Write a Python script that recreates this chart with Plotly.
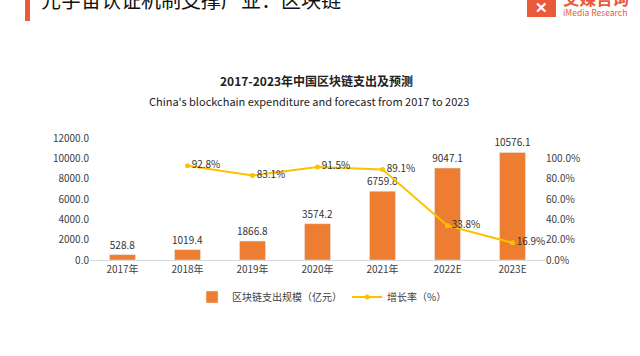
import plotly.graph_objects as go

categories = ["2017年", "2018年", "2019年", "2020年", "2021年", "2022E", "2023E"]
spend = [528.8, 1019.4, 1866.8, 3574.2, 6759.8, 9047.1, 10576.1]
growth_years = ["2018年", "2019年", "2020年", "2021年", "2022E", "2023E"]
growth = [0.928, 0.831, 0.915, 0.891, 0.338, 0.169]

FONT = "Noto Sans CJK SC"
ORANGE = "#ED7D31"
GOLD = "#FFC000"

# plot-area pixel helpers (for decorations only)
L, R, T, B = 90, 95, 138, 96
W = 640 - L - R
H = 356 - T - B
def px(x):
    return (x - L) / W
def py(y):
    return (356 - B - y) / H

fig = go.Figure()
fig.add_trace(go.Bar(
    x=categories, y=spend, name="区块链支出规模（亿元）",
    marker_color=ORANGE, width=0.4,
    text=[f"{v:.1f}" for v in spend], textposition="outside", constraintext="none",
    textfont=dict(size=10, color="#333333"), cliponaxis=False,
))
fig.add_trace(go.Scatter(
    x=growth_years, y=growth, name="增长率（%）", yaxis="y2",
    mode="lines+markers+text", line=dict(color=GOLD, width=2),
    marker=dict(size=5, color=GOLD),
    text=[f"{v*100:.1f}%" for v in growth], textposition="middle right",
    textfont=dict(size=10, color="#333333"), cliponaxis=False,
))

fig.update_layout(
    width=640, height=356,
    margin=dict(l=L, r=R, t=T, b=B, autoexpand=False),
    paper_bgcolor="white", plot_bgcolor="white",
    font=dict(family=FONT, size=10, color="#404040"),
    xaxis=dict(showgrid=False, showline=True, linecolor="#D9D9D9", linewidth=1,
               ticks="", tickfont=dict(size=10, color="#404040"), automargin=False),
    yaxis=dict(range=[0, 12000], dtick=2000, tickformat=".1f", showgrid=False,
               zeroline=False, ticks="", tickfont=dict(size=10, color="#404040"), automargin=False),
    yaxis2=dict(range=[0, 1.2], tickvals=[0, 0.2, 0.4, 0.6, 0.8, 1.0], tickformat=".1%",
                overlaying="y", side="right", showgrid=False, zeroline=False,
                ticks="", tickfont=dict(size=10, color="#404040"), automargin=False),
    legend=dict(orientation="h", x=0.51, xanchor="center", y=py(297), yanchor="middle",
                font=dict(size=10, color="#404040"), itemwidth=30, traceorder="normal"),
    showlegend=True,
)

annotations = [
    dict(text="<b>2017-2023年中国区块链支出及预测</b>", x=px(316), y=py(80),
         font=dict(size=12, color="#222222")),
    dict(text="China's blockchain expenditure and forecast from 2017 to 2023", x=px(309), y=py(101),
         font=dict(size=11, color="#222222")),
    dict(text="元宇宙认证机制支撑产业：区块链", x=px(39), y=py(0), xanchor="left",
         font=dict(size=20, color="#111111")),
    dict(text="<b>艾媒咨询</b>", x=px(561), y=py(-2), xanchor="left",
         font=dict(size=16.5, color="#E85A3A")),
    dict(text="iMedia Research", x=px(561), y=py(12.5), xanchor="left",
         font=dict(size=8.5, color="#E85A3A")),
    dict(text="<b>✕</b>", x=px(541), y=py(6), xanchor="center",
         font=dict(size=15, color="white")),
]
for a in annotations:
    a.setdefault("xref", "paper")
    a.setdefault("yref", "paper")
    a.setdefault("showarrow", False)
    a.setdefault("yanchor", "middle")
    fig.add_annotation(**a)

fig.add_shape(type="rect", xref="paper", yref="paper",
              x0=px(25), x1=px(30), y0=py(21), y1=py(-5),
              fillcolor="#E85A3A", line_width=0, layer="above")
fig.add_shape(type="rect", xref="paper", yref="paper",
              x0=px(527), x1=px(556), y0=py(17), y1=py(-5),
              fillcolor="#E85A3A", line_width=0, layer="below")

fig.write_html("out.html", config={"displayModeBar": False},
               post_script="document.body.style.margin='0px';")
